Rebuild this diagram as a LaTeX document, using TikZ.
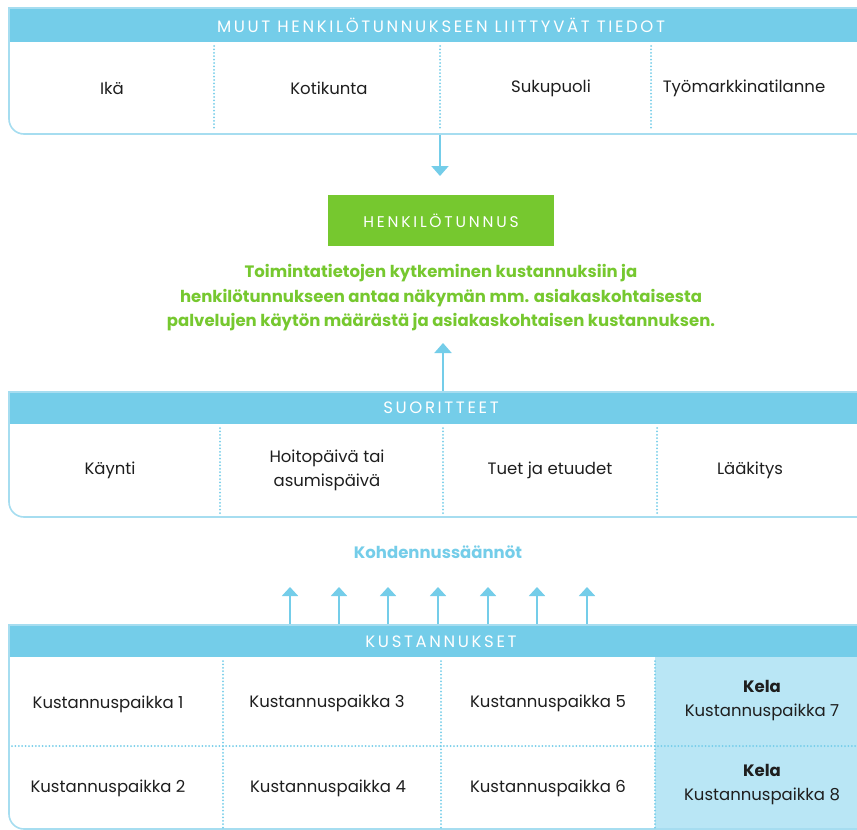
\documentclass[tikz,border=0pt]{standalone}
\usepackage{fontspec}
\setmainfont{Poppins}
\newfontfamily\hdrfont[LetterSpace=16]{Poppins}
\newfontfamily\hetufont[LetterSpace=18]{Poppins}
\usetikzlibrary{arrows.meta}
\definecolor{hdr}{HTML}{74CDE9}
\definecolor{brd}{HTML}{A6DDF0}
\definecolor{grn}{HTML}{76C82F}
\definecolor{kela}{HTML}{B9E6F5}
\definecolor{txt}{HTML}{1E1E1E}
\tikzset{
  frame/.style={draw=brd, line width=1.6pt},
  band/.style={fill=hdr},
  hdrtext/.style={text=white, font=\hdrfont\fontsize{16.5}{18}\selectfont},
  cell/.style={text=txt, font=\fontsize{16.5}{24}\selectfont, align=center},
  divider/.style={draw=hdr, line width=2pt, dash pattern=on 0pt off 3.4pt, line cap=round},
  flow/.style={draw=hdr, line width=2pt, -{Triangle[width=17pt,length=10pt]}},
}
\begin{document}
\begin{tikzpicture}[x=1pt,y=-1pt]
\useasboundingbox (0,0) rectangle (857,830);
\fill[white] (0,0) rectangle (857,830);

% ---------- top box ----------
\fill[band] (9,8) rectangle (857,42);
\draw[frame] (857,8) -- (9,8) -- (9,119) arc[start angle=180,end angle=90,radius=15] -- (857,134);
\node[hdrtext] (h1) at (441,25) {MUUT HENKILÖTUNNUKSEEN LIITTYVÄT TIEDOT};
\foreach \x in {214,440,651} \draw[divider] (\x,46) -- (\x,130);
\node[cell] (ika) at (112,88) {Ikä};
\node[cell] (koti) at (329,88) {Kotikunta};
\node[cell] (suku) at (551,88) {Sukupuoli};
\node[cell] (tyo) at (744,88) {Työmarkkinatilanne};

\coordinate (topout) at (440,135);
\coordinate (topin) at (440,176);
\draw[flow] (topout) -- (topin);

% ---------- henkilötunnus ----------
\node[fill=grn, minimum width=226pt, minimum height=51pt, inner sep=0pt,
      text=white, font=\hetufont\fontsize{15.5}{18}\selectfont] (hetu) at (441,220.5) {HENKILÖTUNNUS};
\node[text=grn, font=\bfseries\fontsize{16.5}{24.5}\selectfont, align=center] (desc) at (441,298)
  {Toimintatietojen kytkeminen kustannuksiin ja\\
   henkilötunnukseen antaa näkymän mm. asiakaskohtaisesta\\
   palvelujen käytön määrästä ja asiakaskohtaisen kustannuksen.};

\coordinate (suout) at (443,392);
\coordinate (suin) at (443,343);
\draw[flow] (suout) -- (suin);

% ---------- suoritteet ----------
\fill[band] (9,392) rectangle (857,424);
\draw[frame] (857,392) -- (9,392) -- (9,502) arc[start angle=180,end angle=90,radius=15] -- (857,517);
\node[hdrtext] (h2) at (441,408) {SUORITTEET};
\foreach \x in {220,443,657} \draw[divider] (\x,428) -- (\x,513);
\node[cell] (kay) at (110,470) {Käynti};
\node[cell] (hoito) at (327,470) {Hoitopäivä tai\\asumispäivä};
\node[cell] (tuet) at (550,470) {Tuet ja etuudet};
\node[cell] (laak) at (750,470) {Lääkitys};

% ---------- kohdennussäännöt ----------
\node[text=hdr, font=\bfseries\fontsize{16.5}{18}\selectfont] (kohd) at (438,552) {Kohdennussäännöt};
\foreach \x [count=\i] in {290,339,388,438,488,537,587} {
  \coordinate (ka\i) at (\x,625);
  \coordinate (kb\i) at (\x,587);
  \draw[flow, line width=1.8pt, -{Triangle[width=16pt,length=9pt]}] (ka\i) -- (kb\i);
}

% ---------- kustannukset ----------
\fill[kela] (655,657) rectangle (857,830);
\fill[band] (9,625) rectangle (857,657);
\draw[frame] (857,625) -- (9,625) -- (9,814) arc[start angle=180,end angle=90,radius=15] -- (857,829);
\node[hdrtext] (h3) at (441,642) {KUSTANNUKSET};
\foreach \x in {223,441,655} \draw[divider] (\x,661) -- (\x,830);
\draw[divider] (12,746) -- (857,746);
\node[cell] (k1) at (108,704) {Kustannuspaikka 1};
\node[cell] (k3) at (327,703) {Kustannuspaikka 3};
\node[cell] (k5) at (548,703) {Kustannuspaikka 5};
\node[cell] (k7) at (762,701) {\textbf{Kela}\\Kustannuspaikka 7};
\node[cell] (k2) at (108,788) {Kustannuspaikka 2};
\node[cell] (k4) at (328,788) {Kustannuspaikka 4};
\node[cell] (k6) at (548,788) {Kustannuspaikka 6};
\node[cell] (k8) at (762,785) {\textbf{Kela}\\Kustannuspaikka 8};
\end{tikzpicture}
\end{document}
